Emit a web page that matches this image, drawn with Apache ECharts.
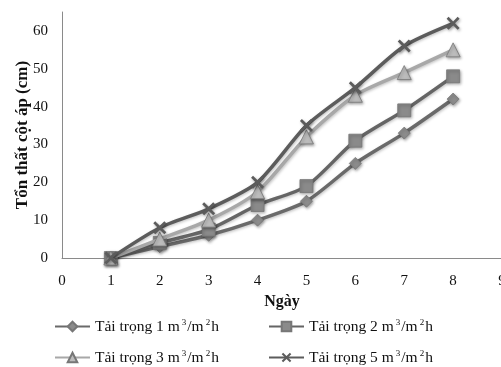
<!DOCTYPE html>
<html>
<head>
<meta charset="utf-8">
<script src="https://cdn.jsdelivr.net/npm/echarts@6/dist/echarts.min.js"></script>
<style>
  html, body { margin: 0; padding: 0; background: #fff; }
  #chart { width: 501px; height: 367px; }
</style>
</head>
<body>
<div id="chart"></div>
<script>
// Days along the x axis
const days = [1, 2, 3, 4, 5, 6, 7, 8];

// Head loss (cm) for each hydraulic load
const load1 = [0, 3, 6, 10, 15, 25, 33, 42];
const load2 = [0, 4, 7.5, 14, 19, 31, 39, 48];
const load3 = [0, 5, 10, 17.5, 32, 43, 49, 55];
const load5 = [0, 8, 13, 20, 35, 45, 56, 62];

const seriesNames = [
  'Tải trọng 1 m{s|3}/m{s|2}h',
  'Tải trọng 2 m{s|3}/m{s|2}h',
  'Tải trọng 3 m{s|3}/m{s|2}h',
  'Tải trọng 5 m{s|3}/m{s|2}h'
];

const xTicks = [0, 1, 2, 3, 4, 5, 6, 7, 8, 9];
const yTicks = [0, 10, 20, 30, 40, 50, 60];

const serif = '"Liberation Serif", "DejaVu Serif", serif';
const crossPath = 'path://M0,1.5L1.5,0L5,3.5L8.5,0L10,1.5L6.5,5L10,8.5L8.5,10L5,6.5L1.5,10L0,8.5L3.5,5Z';

const styles = [
  { line: '#6a6a6a', fill: '#8c8c8c', symbol: 'diamond', size: 12 },
  { line: '#656565', fill: '#8a8a8a', symbol: 'rect', size: 13 },
  { line: '#a8a8a8', fill: '#bcbcbc', symbol: 'triangle', size: 14 },
  { line: '#5c5c5c', fill: '#5c5c5c', symbol: crossPath, size: 13 }
];

const values = [load1, load2, load3, load5];

const series = values.map((vals, i) => ({
  name: seriesNames[i],
  type: 'line',
  smooth: 0.25,
  data: days.map((d, k) => [d, vals[k]]),
  symbol: styles[i].symbol,
  symbolSize: styles[i].size,
  lineStyle: {
    color: styles[i].line, width: 3.5,
    shadowColor: 'rgba(0,0,0,0.25)', shadowBlur: 3, shadowOffsetX: 1, shadowOffsetY: 1
  },
  itemStyle: {
    color: styles[i].fill,
    borderColor: i === 3 ? styles[i].fill : '#777',
    borderWidth: i === 3 ? 0 : 0.8,
    shadowColor: 'rgba(0,0,0,0.35)', shadowBlur: 3, shadowOffsetX: 1, shadowOffsetY: 1.5
  },
  z: 2 + i
}));

const legendRich = {
  s: { fontFamily: serif, fontSize: 9, verticalAlign: 'top', padding: [0, 1, 8, 2], color: '#111' }
};

function legendAt(idx, left, top) {
  return {
    data: [seriesNames[idx]],
    left: left, top: top,
    padding: 0,
    itemWidth: 35, itemHeight: 12,
    itemGap: 0,
    textStyle: {
      fontFamily: serif, fontSize: 15.5, color: '#111',
      rich: legendRich
    }
  };
}

const chart = echarts.init(document.getElementById('chart'), null, { renderer: 'canvas' });
chart.setOption({
  animation: false,
  backgroundColor: '#fff',
  grid: { left: 62, top: 12, width: 440, height: 246, containLabel: false, outerBoundsMode: 'none' },
  xAxis: {
    type: 'value',
    min: 0, max: 9, interval: 1,
    name: 'Ngày',
    nameLocation: 'middle',
    nameGap: 36,
    nameMoveOverlap: false,
    nameTextStyle: { fontFamily: serif, fontSize: 16, fontWeight: 'bold', color: '#111' },
    axisLine: { lineStyle: { color: '#8a8a8a', width: 1 } },
    axisTick: { show: false },
    splitLine: { show: false },
    axisLabel: {
      fontFamily: serif, fontSize: 15, color: '#111', margin: 16,
      formatter: v => xTicks.includes(v) ? String(v) : ''
    }
  },
  yAxis: {
    type: 'value',
    min: 0, max: 65, interval: 10,
    name: 'Tổn thất cột áp (cm)',
    nameLocation: 'middle',
    nameGap: 31,
    nameMoveOverlap: false,
    nameTextStyle: { fontFamily: serif, fontSize: 17, fontWeight: 'bold', color: '#111' },
    axisLine: { show: true, lineStyle: { color: '#8a8a8a', width: 1 } },
    axisTick: { show: false },
    splitLine: { show: false },
    axisLabel: {
      fontFamily: serif, fontSize: 15, color: '#111', margin: 14,
      formatter: v => yTicks.includes(v) ? String(v) : ''
    }
  },
  legend: [
    legendAt(0, 54, 318),
    legendAt(1, 268, 318),
    legendAt(2, 54, 349),
    legendAt(3, 268, 349)
  ],
  series: series
});
</script>
</body>
</html>
